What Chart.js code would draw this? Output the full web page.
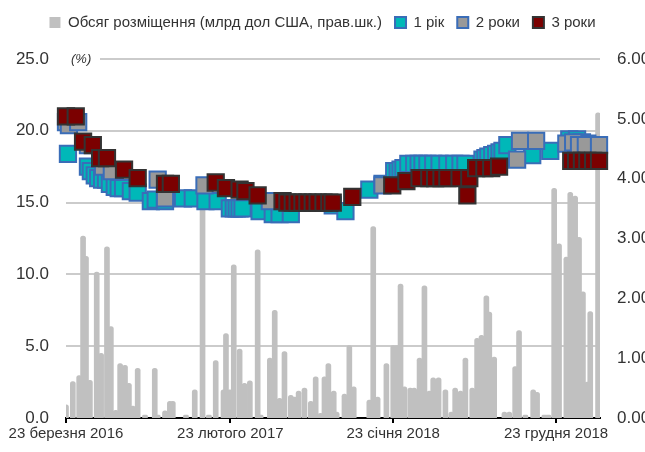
<!DOCTYPE html>
<html>
<head>
<meta charset="utf-8">
<script src="https://cdn.jsdelivr.net/npm/chart.js@4.4.1/dist/chart.umd.min.js"></script>
<style>
    body { margin: 0; background: #fff; }
    #wrap { width: 645px; height: 452px; position: relative; }
</style>
</head>
<body>
<div id="wrap"><canvas id="auctionChart"></canvas></div>
<script>
// x values are days counted from 23 March 2016
const xTickDays = [0, 337, 671, 1005];
const xTickLabels = ['23 березня 2016', '23 лютого 2017', '23 січня 2018', '23 грудня 2018'];

// placement volume, USD bn (right scale)
const volDays = [0, 14, 27, 35, 41, 49, 63, 72, 84, 92, 102, 111, 121, 129, 137, 147, 162, 182, 188, 203,
    213, 219, 246, 264, 280, 293, 307, 323, 328, 336, 344, 356, 366, 377, 393, 399, 418, 428, 438, 448,
    461, 469, 477, 489, 502, 512, 522, 530, 538, 549, 555, 571, 581, 590, 622, 630, 639, 657, 671, 678,
    686, 694, 706, 714, 725, 735, 745, 753, 764, 778, 790, 798, 809, 819, 833, 843, 852, 862, 868, 878,
    899, 909, 921, 929, 942, 958, 966, 981, 989, 1001, 1011, 1026, 1034, 1044, 1052, 1060, 1069, 1075, 1091];
const volume = [0.22, 0.61, 0.71, 3.04, 2.7, 0.63, 2.44, 1.08, 2.86, 1.53, 0.13, 0.91, 0.88, 0.58, 0.2, 0.83, 0.05, 0.83, 0.05, 0.12,
    0.28, 0.28, 0.05, 0.47, 4.02, 0.05, 0.96, 0.47, 1.41, 0.47, 2.56, 1.15, 0.58, 0.62, 2.81, 0.05, 1.0, 1.8, 0.33, 1.11,
    0.38, 0.35, 0.45, 0.5, 0.28, 0.69, 0.08, 0.69, 0.91, 0.45, 0.1, 0.4, 1.21, 0.52, 0.3, 3.2, 0.35, 0.91, 1.21, 1.21,
    2.24, 0.52, 0.5, 0.5, 1.0, 2.21, 0.45, 0.67, 0.67, 0.47, 0.1, 0.5, 0.45, 1.0, 0.5, 1.33, 1.38, 2.04, 1.77, 1.02,
    0.1, 0.1, 0.86, 1.46, 0.05, 0.47, 0.43, 0.05, 0.05, 3.84, 2.91, 2.69, 3.77, 3.71, 3.02, 2.11, 0.6, 1.78, 5.1];

// yields, % (left scale)
const y1Days = [4, 45, 51, 59, 66, 74, 82, 90, 100, 108, 117, 133, 147, 174, 184, 203, 240, 260, 286, 311,
    336, 344, 350, 356, 362, 397, 424, 438, 461, 547, 573, 622, 649, 673, 680, 686, 692, 702, 714, 723,
    731, 741, 753, 766, 782, 796, 809, 819, 854, 860, 866, 874, 882, 889, 895, 905, 956, 993, 1032, 1048,
    1058, 1069];
const y1Rate = [18.4, 17.5, 17.2, 16.9, 16.7, 16.6, 16.6, 16.3, 16.1, 16.0, 16.0, 15.8, 15.7, 15.1, 15.2, 15.1, 15.3, 15.3, 15.1, 15.1,
    14.6, 14.6, 14.6, 14.6, 14.6, 14.4, 14.2, 14.2, 14.2, 14.8, 14.4, 15.9, 16.3, 17.2, 17.2, 17.3, 17.4, 17.7, 17.7, 17.7,
    17.7, 17.7, 17.7, 17.7, 17.7, 17.7, 17.7, 17.7, 18.0, 18.1, 18.2, 18.3, 18.4, 18.5, 18.6, 19.0, 18.3, 18.6, 19.4, 19.4,
    19.2, 19.1];

const y2Days = [0, 6, 25, 45, 76, 94, 188, 203, 284, 418, 649, 925, 931, 964, 1026, 1040, 1052, 1066, 1093];
const y2Rate = [20.6, 20.4, 20.6, 19.0, 17.5, 17.2, 16.6, 15.3, 16.2, 15.1, 16.2, 18.0, 19.3, 19.3, 19.1, 19.2, 19.0, 19.0, 19.0];

const y3Days = [0, 20, 35, 55, 70, 84, 119, 147, 203, 215, 307, 328, 356, 368, 393, 444, 454, 465, 475, 485,
    495, 506, 516, 528, 540, 547, 587, 669, 698, 725, 745, 757, 770, 782, 807, 823, 827, 841, 858, 872,
    888, 1036, 1046, 1058, 1069, 1081, 1093];
const y3Rate = [21.0, 21.0, 19.25, 19.0, 18.1, 18.1, 17.3, 16.7, 16.3, 16.3, 16.4, 16.0, 15.9, 15.8, 15.5, 15.1, 15.0, 15.0, 15.0, 15.0,
    15.0, 15.0, 15.0, 15.0, 15.0, 15.0, 15.4, 16.2, 16.5, 16.7, 16.7, 16.7, 16.7, 16.7, 16.7, 15.5, 16.7, 17.4, 17.4, 17.4,
    17.5, 17.9, 17.9, 17.9, 17.9, 17.9, 17.9];

const FONT = "'Liberation Sans', Arial, sans-serif";

function points(days, vals) {
    return days.map((d, i) => ({ x: d, y: vals[i] }));
}

// "(%)" caption sitting on the top gridline
const percentLabel = {
    id: 'percentLabel',
    beforeDatasetsDraw(chart) {
        const ctx = chart.ctx;
        const area = chart.chartArea;
        const top = chart.scales.y.getPixelForValue(25);
        ctx.save();
        ctx.fillStyle = '#fff';
        ctx.fillRect(area.left, top - 4, 34, 8);
        ctx.fillStyle = '#333';
        ctx.font = 'italic 13px ' + FONT;
        ctx.textBaseline = 'middle';
        ctx.fillText('(%)', area.left + 5, top);
        ctx.restore();
    }
};

// extra room between legend and plot
const legendGap = {
    id: 'legendGap',
    beforeLayout(chart) {
        const lg = chart.legend;
        if (lg && !lg._gapPatched) {
            const fit = lg.fit;
            lg.fit = function () { fit.call(this); this.height += 19; };
            lg._gapPatched = true;
        }
    }
};

const ctx = document.getElementById('auctionChart').getContext('2d');
new Chart(ctx, {
    type: 'bar',
    data: {
        datasets: [{
            type: 'bar',
            label: 'Обсяг розміщення (млрд дол США, прав.шк.)',
            data: points(volDays, volume),
            yAxisID: 'y2',
            backgroundColor: '#c0c0c0',
            borderWidth: 0,
            barThickness: 5,
            borderRadius: 3,
            order: 4,
        }, {
            type: 'scatter',
            label: '1 рік',
            data: points(y1Days, y1Rate),
            yAxisID: 'y',
            backgroundColor: '#00b8b8',
            borderColor: '#3a6db8',
            borderWidth: 2,
            pointStyle: 'rect',
            pointRadius: 11.5,
            clip: false,
            order: 3,
        }, {
            type: 'scatter',
            label: '2 роки',
            data: points(y2Days, y2Rate),
            yAxisID: 'y',
            backgroundColor: '#999999',
            borderColor: '#3a6db8',
            borderWidth: 2,
            pointStyle: 'rect',
            pointRadius: 11.5,
            clip: false,
            order: 2,
        }, {
            type: 'scatter',
            label: '3 роки',
            data: points(y3Days, y3Rate),
            yAxisID: 'y',
            backgroundColor: '#7b0000',
            borderColor: '#333333',
            borderWidth: 2,
            pointStyle: 'rect',
            pointRadius: 11.5,
            clip: false,
            order: 1,
        }]
    },
    options: {
        responsive: true,
        maintainAspectRatio: false,
        animation: false,
        layout: { padding: { top: 2, left: 0, right: 0, bottom: 0 } },
        plugins: {
            tooltip: { enabled: false },
            legend: {
                position: 'top',
                labels: {
                    color: '#333',
                    font: { family: FONT, size: 15 },
                    boxWidth: 11,
                    boxHeight: 11,
                    padding: 13,
                    sort: (a, b) => a.datasetIndex - b.datasetIndex,
                }
            }
        },
        scales: {
            x: {
                type: 'linear',
                min: 0,
                max: 1095,
                offset: false,
                afterBuildTicks: scale => {
                    scale.ticks = xTickDays.map(v => ({ value: v }));
                },
                afterFit: scale => { scale.height = 34; },
                ticks: {
                    color: '#333',
                    font: { family: FONT, size: 15 },
                    maxRotation: 0,
                    autoSkip: false,
                    padding: 2,
                    callback: v => xTickLabels[xTickDays.indexOf(v)],
                },
                grid: { offset: false, drawOnChartArea: false, drawTicks: true, tickLength: 5, color: '#000', lineWidth: 2 },
                border: { color: '#000', width: 2 },
            },
            y: {
                position: 'left',
                min: 0,
                max: 25,
                afterFit: scale => { scale.width = 66; },
                ticks: {
                    stepSize: 5,
                    color: '#333',
                    padding: 17,
                    font: { family: FONT, size: 17 },
                    callback: v => v.toFixed(1),
                },
                grid: {
                    drawTicks: false,
                    lineWidth: 2,
                    color: c => c.tick.value === 0 ? 'rgba(0,0,0,0)' : '#cbcbcb',
                },
                border: { display: false },
            },
            y2: {
                position: 'right',
                min: 0,
                max: 6,
                afterFit: scale => { scale.width = 45; },
                ticks: {
                    stepSize: 1,
                    color: '#333',
                    padding: 9,
                    font: { family: FONT, size: 17 },
                    callback: v => v.toFixed(2),
                },
                grid: { display: false },
                border: { display: false },
            }
        }
    },
    plugins: [percentLabel, legendGap]
});
</script>
</body>
</html>
